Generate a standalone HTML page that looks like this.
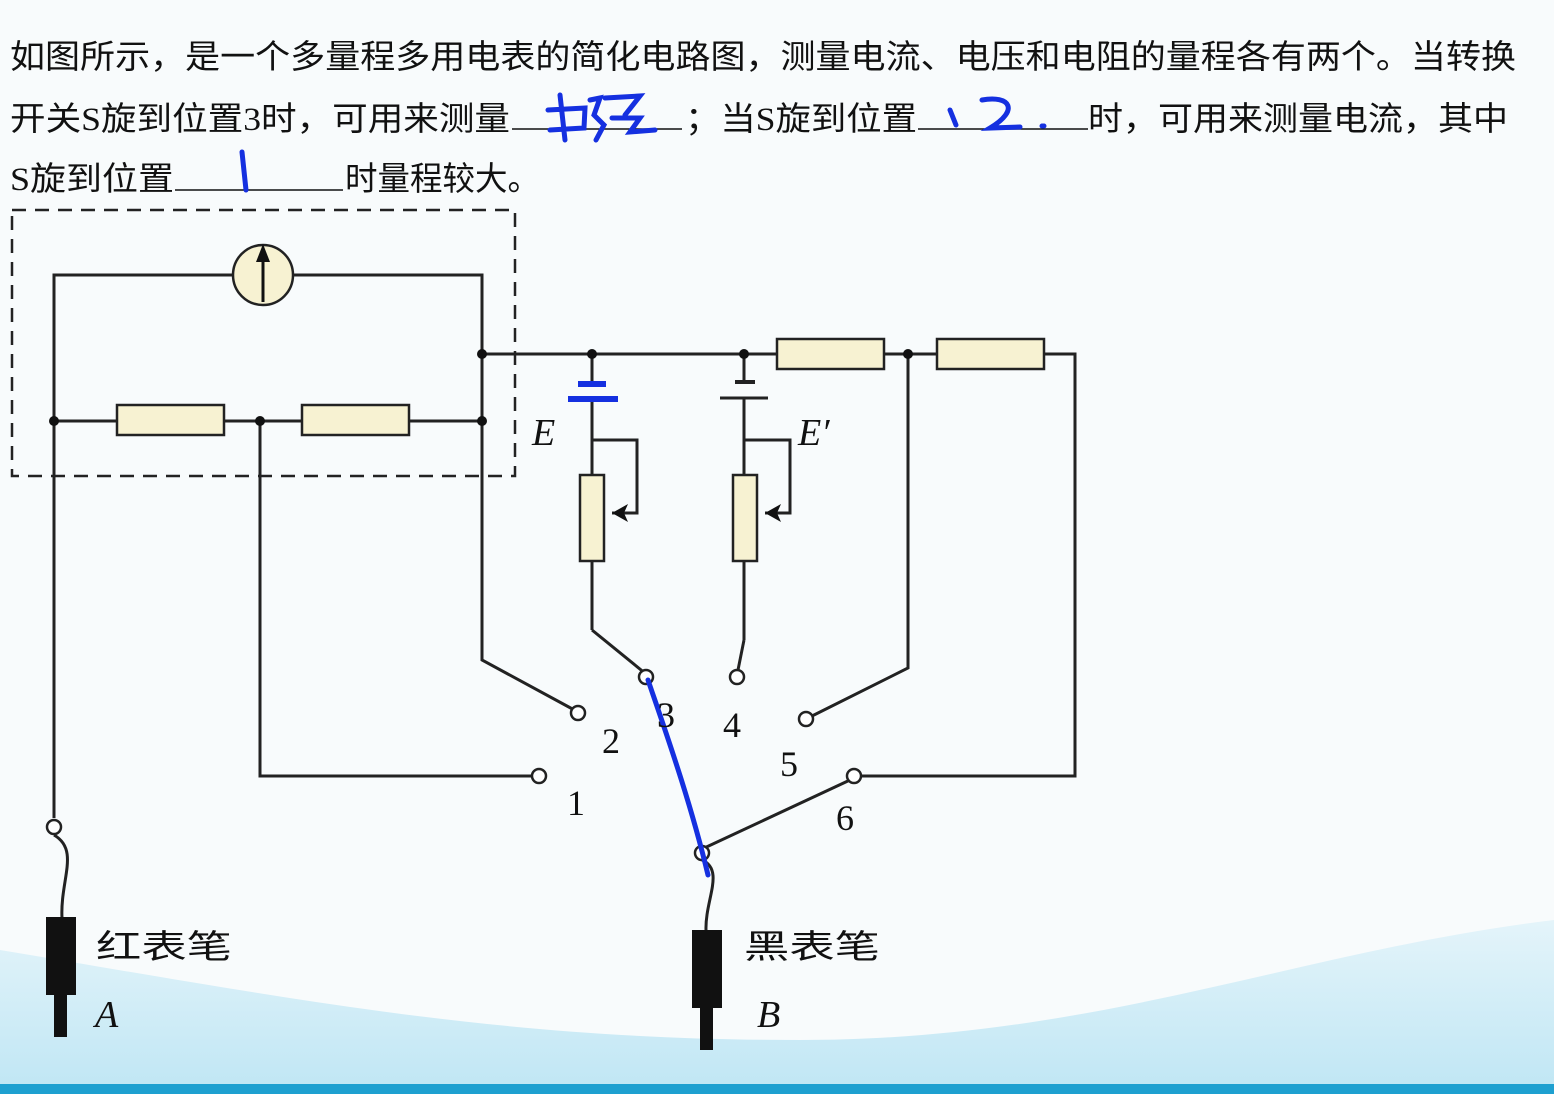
<!DOCTYPE html>
<html><head><meta charset="utf-8"><style>
html,body{margin:0;padding:0;width:1554px;height:1094px;overflow:hidden;background:#f8fbfc}
svg{display:block}
.c{font-family:"Noto Sans CJK SC",sans-serif;font-size:33px;fill:#111}
.n{font-family:"Liberation Serif",serif;font-size:36px;fill:#111}
.i{font-family:"Liberation Serif",serif;font-style:italic;font-size:38px;fill:#111}
</style></head><body>
<svg width="1554" height="1094" viewBox="0 0 1554 1094" xmlns="http://www.w3.org/2000/svg">
<defs><linearGradient id="g" x1="0" y1="0" x2="0" y2="1"><stop offset="0" stop-color="#e4f4fa"/><stop offset="1" stop-color="#bfe6f4"/></linearGradient></defs>
<rect width="1554" height="1094" fill="#f8fbfc"/>
<path d="M0 950 C300 1000 500 1040 800 1040 C1100 1040 1300 950 1554 920 L1554 1094 L0 1094Z" fill="url(#g)"/>
<rect x="0" y="1084" width="1554" height="10" fill="#1ea0d0"/>
<g class="c">
<text x="10" y="68" textLength="1506" lengthAdjust="spacingAndGlyphs">如图所示，是一个多量程多用电表的简化电路图，测量电流、电压和电阻的量程各有两个。当转换</text>
<text x="10" y="130" textLength="500" lengthAdjust="spacingAndGlyphs">开关<tspan font-family="Liberation Serif">S</tspan>旋到位置<tspan font-family="Liberation Serif">3</tspan>时，可用来测量</text>
<text x="685" y="130" textLength="232" lengthAdjust="spacingAndGlyphs">；当<tspan font-family="Liberation Serif">S</tspan>旋到位置</text>
<text x="1088" y="130" textLength="420" lengthAdjust="spacingAndGlyphs">时，可用来测量电流，其中</text>
<text x="10" y="190" textLength="164" lengthAdjust="spacingAndGlyphs"><tspan font-family="Liberation Serif">S</tspan>旋到位置</text>
<text x="345" y="190" textLength="195" lengthAdjust="spacingAndGlyphs">时量程较大。</text>
</g>
<g stroke="#111" stroke-width="1.5">
<line x1="512" y1="129" x2="682" y2="129"/><line x1="918" y1="129" x2="1088" y2="129"/><line x1="175" y1="190" x2="343" y2="190"/>
</g>
<g fill="none" stroke="#1530e0" stroke-width="5" stroke-linecap="round">
<path d="M560 95 L565 140 M548 110 L585 108 L584 128 L550 130 M590 100 L600 98 L594 115 L604 125 L596 140 M605 98 L640 96 L625 115 M612 118 L640 118 L630 132 L655 130"/>
<path d="M950 110 L956 125 M982 100 C1010 95 1020 110 990 128 L1020 127 M1042 126 L1044 126"/>
<path d="M242 152 L246 190"/>
</g>
<g fill="none" stroke="#222" stroke-width="3">
<rect x="12" y="210" width="503" height="266" stroke-dasharray="14 9" stroke-width="2.5"/>
<polyline points="232,275 54,275 54,818"/>
<polyline points="293,275 482,275 482,660 578,712"/>
<line x1="482" y1="354" x2="1075" y2="354"/>
<polyline points="1045,354 1075,354 1075,776 860,776"/>
<line x1="54" y1="421" x2="482" y2="421"/>
<polyline points="260,421 260,776 532,776"/>
<line x1="592" y1="354" x2="592" y2="385"/><line x1="592" y1="400" x2="592" y2="630"/>
<polyline points="592,630 646,674"/>
<polyline points="592,440 637,440 637,513 612,513"/>
<line x1="744" y1="354" x2="744" y2="382"/><line x1="744" y1="398" x2="744" y2="640"/>
<polyline points="744,640 738,670"/>
<polyline points="744,440 790,440 790,513 765,513"/>
<polyline points="908,354 908,668 812,716"/>
<line x1="700" y1="850" x2="850" y2="780"/>
<path d="M54 835 C80 850 60 880 62 918"/>
<path d="M702 860 C725 870 705 900 706 930"/>
</g>
<line x1="735" y1="382" x2="755" y2="382" stroke="#222" stroke-width="4"/>
<line x1="720" y1="398" x2="768" y2="398" stroke="#222" stroke-width="3"/>
<line x1="578" y1="384" x2="606" y2="384" stroke="#1530e0" stroke-width="6"/>
<line x1="568" y1="399" x2="618" y2="399" stroke="#1530e0" stroke-width="6"/>
<path d="M612 513 L628 504 L624 513 L628 522Z M765 513 L781 504 L777 513 L781 522Z" fill="#111"/>
<g fill="#f7f2d2" stroke="#222" stroke-width="2.5">
<rect x="117" y="405" width="107" height="30"/><rect x="302" y="405" width="107" height="30"/>
<rect x="777" y="339" width="107" height="30"/><rect x="937" y="339" width="107" height="30"/>
<rect x="580" y="475" width="24" height="86"/><rect x="733" y="475" width="24" height="86"/>
<circle cx="263" cy="275" r="30"/>
</g>
<line x1="263" y1="302" x2="263" y2="252" stroke="#111" stroke-width="3"/>
<path d="M263 244 L256 262 L270 262Z" fill="#111"/>
<g fill="#111">
<circle cx="482" cy="354" r="5"/><circle cx="592" cy="354" r="5"/><circle cx="744" cy="354" r="5"/><circle cx="908" cy="354" r="5"/>
<circle cx="54" cy="421" r="5"/><circle cx="260" cy="421" r="5"/><circle cx="482" cy="421" r="5"/>
</g>
<g fill="#fff" stroke="#222" stroke-width="2.5">
<circle cx="578" cy="713" r="7"/><circle cx="646" cy="677" r="7"/><circle cx="737" cy="677" r="7"/><circle cx="806" cy="719" r="7"/>
<circle cx="539" cy="776" r="7"/><circle cx="854" cy="776" r="7"/><circle cx="54" cy="827" r="7"/><circle cx="702" cy="853" r="7"/>
</g>
<path d="M648 680 C665 730 690 800 708 875" fill="none" stroke="#1530e0" stroke-width="5" stroke-linecap="round"/>
<g fill="#111">
<rect x="46" y="917" width="30" height="78"/><rect x="54" y="995" width="13" height="42"/>
<rect x="692" y="930" width="30" height="78"/><rect x="700" y="1008" width="13" height="42"/>
</g>
<g class="n">
<text x="602" y="753">2</text><text x="657" y="727">3</text><text x="723" y="737">4</text>
<text x="780" y="776">5</text><text x="567" y="815">1</text><text x="836" y="830">6</text>
</g>
<text class="i" x="532" y="445">E</text><text class="i" x="798" y="445">E′</text>
<text class="i" x="95" y="1027" font-size="34">A</text><text class="i" x="757" y="1027" font-size="34">B</text>
<text class="c" x="96" y="958" font-size="44" textLength="136" lengthAdjust="spacingAndGlyphs">红表笔</text>
<text class="c" x="744" y="958" font-size="44" textLength="136" lengthAdjust="spacingAndGlyphs">黑表笔</text>
</svg>
</body></html>
